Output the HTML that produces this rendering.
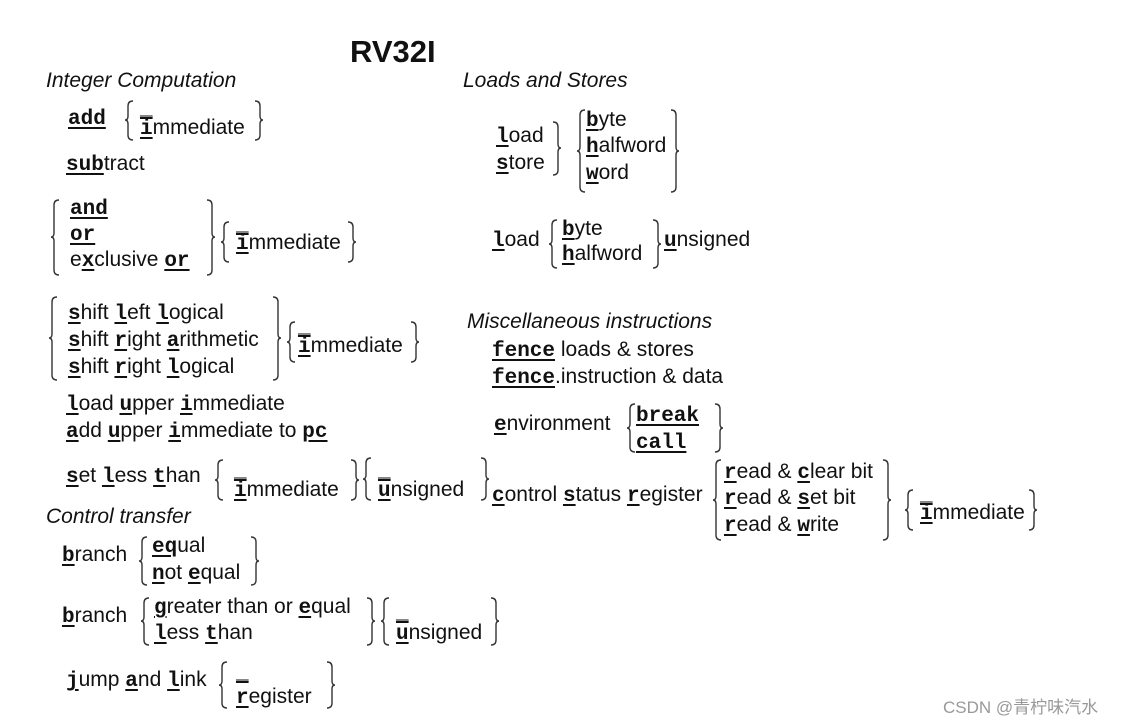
<!DOCTYPE html>
<html><head><meta charset="utf-8"><style>
body{margin:0;width:1129px;height:726px;background:#fff;position:relative;overflow:hidden;font-family:"Liberation Sans",Arial,sans-serif;color:#111}
.t{position:absolute;font-size:21px;line-height:24px;white-space:nowrap}
.i{font-style:italic;font-size:21px}
.m{font-family:"Liberation Mono",monospace;font-weight:bold;text-decoration:underline;text-decoration-thickness:2px;text-underline-offset:3px}
svg{position:absolute;left:0;top:0}
</style></head><body>
<div class="t" style="left:350px;top:34px;font-size:31px;line-height:36px;font-weight:bold">RV32I</div>
<div class="t i" style="left:46px;top:69px">Integer Computation</div>
<div class="t i" style="left:463px;top:69px">Loads and Stores</div>

<div class="t" style="left:68px;top:106px"><span class="m">add</span></div>
<div class="t" style="left:140px;top:96px"><span class="m">_</span></div>
<div class="t" style="left:140px;top:116px"><span class="m">i</span>mmediate</div>
<div class="t" style="left:66px;top:152px"><span class="m">sub</span>tract</div>

<div class="t" style="left:70px;top:196px"><span class="m">and</span></div>
<div class="t" style="left:70px;top:222px"><span class="m">or</span></div>
<div class="t" style="left:70px;top:248px">e<span class="m">x</span>clusive <span class="m">or</span></div>
<div class="t" style="left:236px;top:212px"><span class="m">_</span></div>
<div class="t" style="left:236px;top:231px"><span class="m">i</span>mmediate</div>

<div class="t" style="left:68px;top:301px"><span class="m">s</span>hift <span class="m">l</span>eft <span class="m">l</span>ogical</div>
<div class="t" style="left:68px;top:328px"><span class="m">s</span>hift <span class="m">r</span>ight <span class="m">a</span>rithmetic</div>
<div class="t" style="left:68px;top:355px"><span class="m">s</span>hift <span class="m">r</span>ight <span class="m">l</span>ogical</div>
<div class="t" style="left:298px;top:314px"><span class="m">_</span></div>
<div class="t" style="left:298px;top:334px"><span class="m">i</span>mmediate</div>

<div class="t" style="left:66px;top:392px"><span class="m">l</span>oad <span class="m">u</span>pper <span class="m">i</span>mmediate</div>
<div class="t" style="left:66px;top:419px"><span class="m">a</span>dd <span class="m">u</span>pper <span class="m">i</span>mmediate to <span class="m">pc</span></div>

<div class="t" style="left:66px;top:464px"><span class="m">s</span>et <span class="m">l</span>ess <span class="m">t</span>han</div>
<div class="t" style="left:234px;top:458px"><span class="m">_</span></div>
<div class="t" style="left:234px;top:478px"><span class="m">i</span>mmediate</div>
<div class="t" style="left:378px;top:458px"><span class="m">_</span></div>
<div class="t" style="left:378px;top:478px"><span class="m">u</span>nsigned</div>

<div class="t i" style="left:46px;top:505px">Control transfer</div>
<div class="t" style="left:62px;top:543px"><span class="m">b</span>ranch</div>
<div class="t" style="left:152px;top:534px"><span class="m">eq</span>ual</div>
<div class="t" style="left:152px;top:561px"><span class="m">n</span>ot <span class="m">e</span>qual</div>
<div class="t" style="left:62px;top:604px"><span class="m">b</span>ranch</div>
<div class="t" style="left:154px;top:595px"><span class="m">g</span>reater than or <span class="m">e</span>qual</div>
<div class="t" style="left:154px;top:621px"><span class="m">l</span>ess <span class="m">t</span>han</div>
<div class="t" style="left:396px;top:600px"><span class="m">_</span></div>
<div class="t" style="left:396px;top:621px"><span class="m">u</span>nsigned</div>
<div class="t" style="left:66px;top:668px"><span class="m">j</span>ump <span class="m">a</span>nd <span class="m">l</span>ink</div>
<div class="t" style="left:236px;top:660px"><span class="m">_</span></div>
<div class="t" style="left:236px;top:685px"><span class="m">r</span>egister</div>

<div class="t" style="left:496px;top:124px"><span class="m">l</span>oad</div>
<div class="t" style="left:496px;top:151px"><span class="m">s</span>tore</div>
<div class="t" style="left:586px;top:108px"><span class="m">b</span>yte</div>
<div class="t" style="left:586px;top:134px"><span class="m">h</span>alfword</div>
<div class="t" style="left:586px;top:161px"><span class="m">w</span>ord</div>
<div class="t" style="left:492px;top:228px"><span class="m">l</span>oad</div>
<div class="t" style="left:562px;top:217px"><span class="m">b</span>yte</div>
<div class="t" style="left:562px;top:242px"><span class="m">h</span>alfword</div>
<div class="t" style="left:664px;top:228px"><span class="m">u</span>nsigned</div>

<div class="t i" style="left:467px;top:310px">Miscellaneous instructions</div>
<div class="t" style="left:492px;top:338px"><span class="m">fence</span> loads &amp; stores</div>
<div class="t" style="left:492px;top:365px"><span class="m">fence</span>.instruction &amp; data</div>
<div class="t" style="left:494px;top:412px"><span class="m">e</span>nvironment</div>
<div class="t" style="left:636px;top:403px"><span class="m">break</span></div>
<div class="t" style="left:636px;top:430px"><span class="m">call</span></div>
<div class="t" style="left:492px;top:483px"><span class="m">c</span>ontrol <span class="m">s</span>tatus <span class="m">r</span>egister</div>
<div class="t" style="left:724px;top:460px"><span class="m">r</span>ead &amp; <span class="m">c</span>lear bit</div>
<div class="t" style="left:724px;top:486px"><span class="m">r</span>ead &amp; <span class="m">s</span>et bit</div>
<div class="t" style="left:724px;top:513px"><span class="m">r</span>ead &amp; <span class="m">w</span>rite</div>
<div class="t" style="left:920px;top:482px"><span class="m">_</span></div>
<div class="t" style="left:920px;top:501px"><span class="m">i</span>mmediate</div>

<div class="t" style="left:943px;top:696px;font-size:17px;color:#999;font-family:'Liberation Sans','Noto Sans CJK SC',sans-serif">CSDN @青柠味汽水</div>

<svg width="1129" height="726" fill="none" stroke="#333" stroke-width="1.4">
<!-- left braces: M x+7,y1 Q x+2,y1 x+2,y1+5 L x+2,m-4 Q x+2,m x-1,m Q x+2,m x+2,m+4 L x+2,y2-5 Q x+2,y2 x+7,y2 -->
<path d="M133,101Q128,101 128,106L128,116Q128,120 125,120Q128,120 128,124L128,135Q128,140 133,140"/>
<path d="M255,101Q260,101 260,106L260,116Q260,120 263,120Q260,120 260,124L260,135Q260,140 255,140"/>
<path d="M59,200Q54,200 54,205L54,233Q54,237 51,237Q54,237 54,241L54,270Q54,275 59,275"/>
<path d="M207,200Q212,200 212,205L212,233Q212,237 215,237Q212,237 212,241L212,270Q212,275 207,275"/>
<path d="M229,222Q224,222 224,227L224,238Q224,242 221,242Q224,242 224,246L224,257Q224,262 229,262"/>
<path d="M348,222Q353,222 353,227L353,238Q353,242 356,242Q353,242 353,246L353,257Q353,262 348,262"/>
<path d="M57,297Q52,297 52,302L52,334Q52,338 49,338Q52,338 52,342L52,375Q52,380 57,380"/>
<path d="M273,297Q278,297 278,302L278,334Q278,338 281,338Q278,338 278,342L278,375Q278,380 273,380"/>
<path d="M295,322Q290,322 290,327L290,338Q290,342 287,342Q290,342 290,346L290,357Q290,362 295,362"/>
<path d="M411,322Q416,322 416,327L416,338Q416,342 419,342Q416,342 416,346L416,357Q416,362 411,362"/>
<path d="M223,460Q218,460 218,465L218,476Q218,480 215,480Q218,480 218,484L218,495Q218,500 223,500"/>
<path d="M351,460Q356,460 356,465L356,476Q356,480 359,480Q356,480 356,484L356,495Q356,500 351,500"/>
<path d="M371,458Q366,458 366,463L366,475Q366,479 363,479Q366,479 366,483L366,495Q366,500 371,500"/>
<path d="M481,458Q486,458 486,463L486,475Q486,479 489,479Q486,479 486,483L486,495Q486,500 481,500"/>
<path d="M147,537Q142,537 142,542L142,557Q142,561 139,561Q142,561 142,565L142,580Q142,585 147,585"/>
<path d="M251,537Q256,537 256,542L256,557Q256,561 259,561Q256,561 256,565L256,580Q256,585 251,585"/>
<path d="M149,598Q144,598 144,603L144,617Q144,621 141,621Q144,621 144,625L144,640Q144,645 149,645"/>
<path d="M367,598Q372,598 372,603L372,617Q372,621 375,621Q372,621 372,625L372,640Q372,645 367,645"/>
<path d="M389,598Q384,598 384,603L384,617Q384,621 381,621Q384,621 384,625L384,640Q384,645 389,645"/>
<path d="M491,598Q496,598 496,603L496,617Q496,621 499,621Q496,621 496,625L496,640Q496,645 491,645"/>
<path d="M227,662Q222,662 222,667L222,681Q222,685 219,685Q222,685 222,689L222,703Q222,708 227,708"/>
<path d="M327,662Q332,662 332,667L332,681Q332,685 335,685Q332,685 332,689L332,703Q332,708 327,708"/>
<path d="M553,122Q558,122 558,127L558,144Q558,148 561,148Q558,148 558,152L558,170Q558,175 553,175"/>
<path d="M585,110Q580,110 580,115L580,147Q580,151 577,151Q580,151 580,155L580,187Q580,192 585,192"/>
<path d="M671,110Q676,110 676,115L676,147Q676,151 679,151Q676,151 676,155L676,187Q676,192 671,192"/>
<path d="M557,220Q552,220 552,225L552,240Q552,244 549,244Q552,244 552,248L552,263Q552,268 557,268"/>
<path d="M653,220Q658,220 658,225L658,240Q658,244 661,244Q658,244 658,248L658,263Q658,268 653,268"/>
<path d="M635,404Q630,404 630,409L630,424Q630,428 627,428Q630,428 630,432L630,447Q630,452 635,452"/>
<path d="M715,404Q720,404 720,409L720,424Q720,428 723,428Q720,428 720,432L720,447Q720,452 715,452"/>
<path d="M721,460Q716,460 716,465L716,496Q716,500 713,500Q716,500 716,504L716,535Q716,540 721,540"/>
<path d="M883,460Q888,460 888,465L888,496Q888,500 891,500Q888,500 888,504L888,535Q888,540 883,540"/>
<path d="M913,490Q908,490 908,495L908,506Q908,510 905,510Q908,510 908,514L908,525Q908,530 913,530"/>
<path d="M1029,490Q1034,490 1034,495L1034,506Q1034,510 1037,510Q1034,510 1034,514L1034,525Q1034,530 1029,530"/>
</svg>
</body></html>
